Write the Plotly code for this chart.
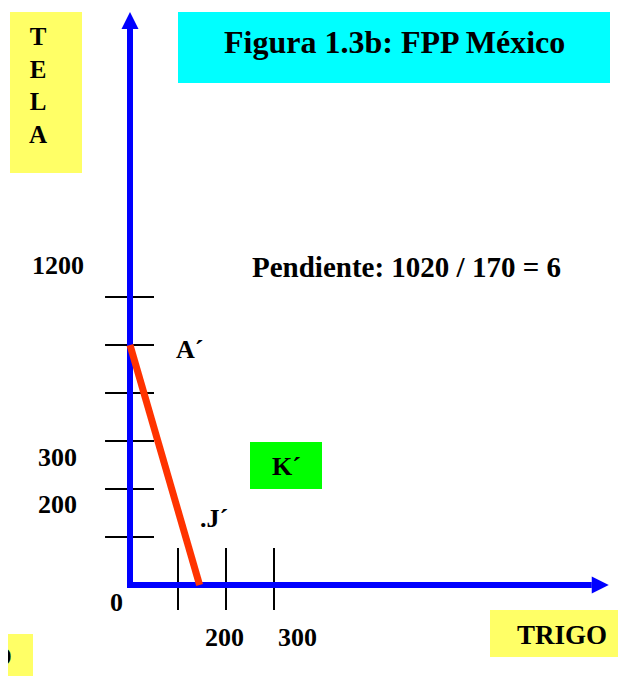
import plotly.graph_objects as go

# ---------------- data ----------------
y_ticks = [200, 400, 600, 800, 1000, 1200]      # marks on TELA axis
x_ticks = [100, 200, 300]                        # marks on TRIGO axis
ppf_trigo = [0, 145]                             # FPP México (A´ -> J´)
ppf_tela = [1000, 0]
y_tick_labels = ["1200", "300", "200"]
x_tick_labels = ["0", "200", "300"]
point_labels = ["A´", ".J´", "K´"]
title_text = "Figura 1.3b: FPP México"
slope_text = "Pendiente: 1020 / 170 = 6"
x_title = "TRIGO"
y_title = ["T", "E", "L", "A"]

# ---------------- layout constants ----------------
OFF = 8                        # page body margin
W, H = 626 - OFF, 676 - OFF
X0_PX, Y0_PX = 130 - OFF, 585 - OFF   # origin in figure pixels
SX, SY = 0.48, 0.24           # pixels per data unit
X_RANGE = [-X0_PX / SX, (W - X0_PX) / SX]
Y_RANGE = [-(H - Y0_PX) / SY, Y0_PX / SY]
Y_AX_TOP = 2317               # end of vertical axis line
X_AX_END = 962                # end of horizontal axis line
ARROW = 17
FONT = "Liberation Serif, Times New Roman, serif"
BLUE = "#0000FF"
RED = "#FF3300"
YELLOW = "#FFFF66"
CYAN = "#00FFFF"
GREEN = "#00FF00"


def px(x):
    return (x - OFF) / W


def py(y):
    return 1 - (y - OFF) / H


fig = go.Figure()

# tick marks on the vertical axis
tx, ty = [], []
for v in y_ticks:
    tx += [-52, 50, None]
    ty += [v, v, None]
# tick marks on the horizontal axis
for v in x_ticks:
    tx += [v, v, None]
    ty += [154, -104, None]
fig.add_trace(go.Scatter(x=tx, y=ty, mode="lines",
                         line=dict(color="black", width=2),
                         hoverinfo="skip"))

# axes
fig.add_trace(go.Scatter(x=[0, 0, X_AX_END], y=[Y_AX_TOP, 0, 0], mode="lines",
                         line=dict(color=BLUE, width=6), hoverinfo="skip"))
fig.add_trace(go.Scatter(x=[0, X_AX_END + ARROW / SX],
                         y=[Y_AX_TOP + ARROW / SY, 0],
                         mode="markers",
                         marker=dict(symbol=["arrow-up", "arrow-right"],
                                     size=ARROW, color=BLUE,
                                     line=dict(width=0)),
                         hoverinfo="skip"))

# PPF
fig.add_trace(go.Scatter(x=ppf_trigo, y=ppf_tela, mode="lines",
                         line=dict(color=RED, width=7), hoverinfo="skip"))

shapes = []


def box(x0, y0, x1, y1, color):
    shapes.append(dict(type="rect", xref="paper", yref="paper",
                       x0=px(x0), x1=px(x1), y0=py(y1), y1=py(y0),
                       fillcolor=color, line=dict(width=0), layer="below"))


box(10, 12, 82, 173, YELLOW)
box(178, 12, 610, 83, CYAN)
box(250, 442, 322, 489, GREEN)
box(490, 610, 640, 657, YELLOW)
box(-5, 634, 33, 690, YELLOW)

annotations = []


def label(x, y, text, size=25, xanchor="center"):
    annotations.append(dict(xref="paper", yref="paper", x=px(x), y=py(y),
                            text=text, showarrow=False, xanchor=xanchor,
                            yanchor="middle",
                            font=dict(family=FONT, size=size, color="black",
                                      weight="bold")))


label(38, 85, "<br>".join(y_title), 25)
label(394, 42, title_text, 32)
label(406, 267, slope_text, 29)
label(58, 265, y_tick_labels[0], 26)
label(57, 457, y_tick_labels[1], 26)
label(57, 505, y_tick_labels[2], 26)
label(117, 602, x_tick_labels[0], 26)
label(224, 637, x_tick_labels[1], 26)
label(297, 637, x_tick_labels[2], 26)
label(189, 349, point_labels[0], 26)
label(214, 518, point_labels[1], 26)
label(286, 466, point_labels[2], 26)
label(562, 635, x_title, 27)
label(14, 656, "D", 26, xanchor="right")

fig.update_layout(
    width=W, height=H,
    margin=dict(l=0, r=0, t=0, b=0),
    paper_bgcolor="white", plot_bgcolor="white",
    showlegend=False,
    xaxis=dict(range=X_RANGE, visible=False, fixedrange=True),
    yaxis=dict(range=Y_RANGE, visible=False, fixedrange=True),
    shapes=shapes, annotations=annotations,
)

fig.write_html("out.html")
